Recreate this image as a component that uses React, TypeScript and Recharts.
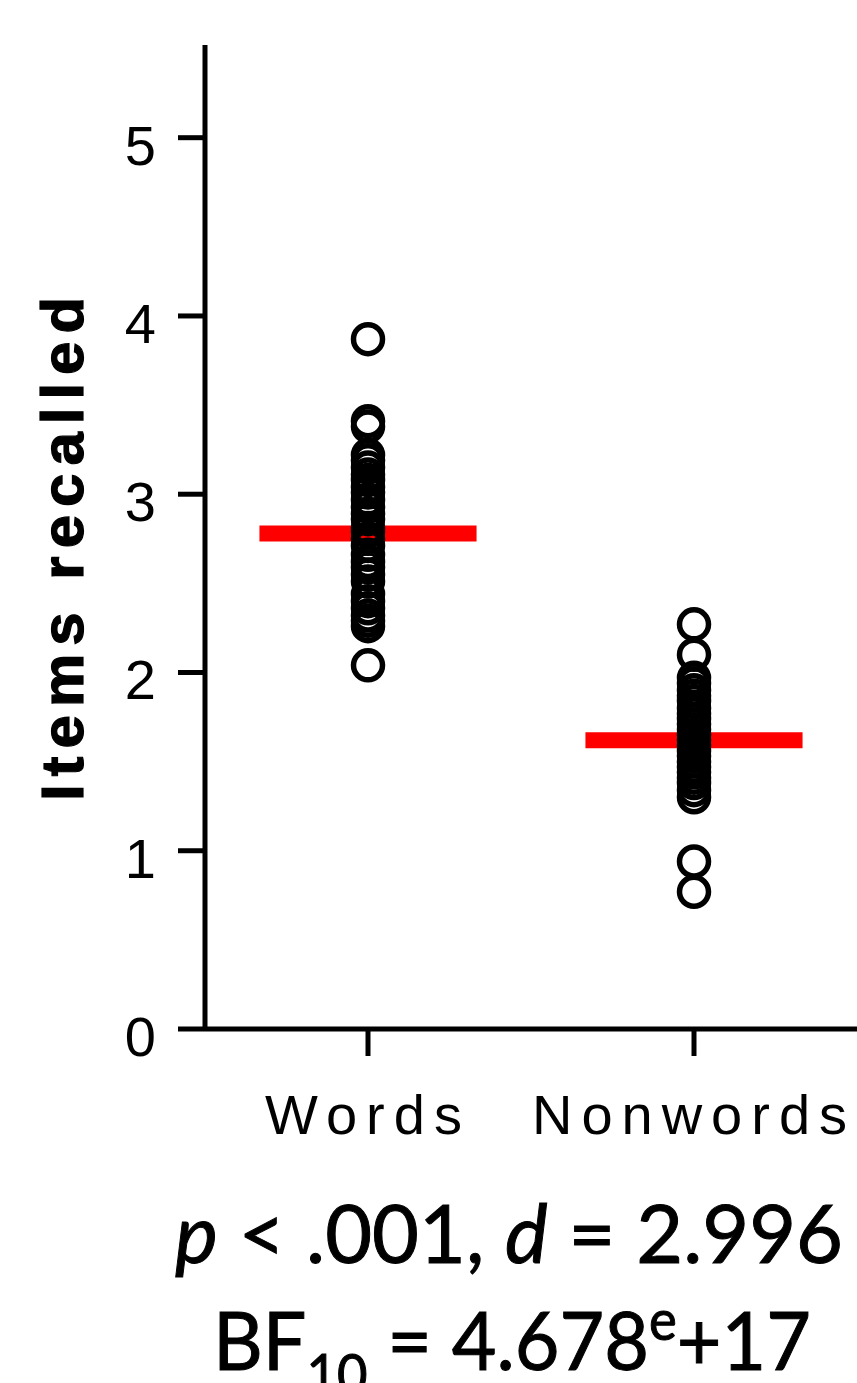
import { ComposedChart, ReferenceLine, Scatter, XAxis, YAxis } from "recharts";

const categories = ["Words", "Nonwords"];

// individual participant means
const wordsRecall = [
  3.87, 3.41, 3.38, 3.22, 3.19, 3.15, 3.11, 3.08, 3.04, 3.01, 2.97, 2.93, 2.89, 2.86, 2.81,
  2.79, 2.75, 2.71, 2.66, 2.62, 2.59, 2.55, 2.51, 2.44, 2.4, 2.36, 2.32, 2.29, 2.26, 2.04,
];
const nonwordsRecall = [
  2.27, 2.1, 1.97, 1.94, 1.9, 1.87, 1.84, 1.8, 1.77, 1.74, 1.71, 1.68, 1.65, 1.62, 1.59,
  1.56, 1.53, 1.5, 1.47, 1.44, 1.41, 1.38, 1.34, 1.3, 0.94, 0.77,
];
const groupMeans = [2.78, 1.62];
const yTicks = [0, 1, 2, 3, 4, 5];

const MEAN_HALF_WIDTH = 0.333;
const AXIS_FONT = "'Liberation Sans', Arial, sans-serif";
const NOTE_FONT = "Lato, 'Open Sans', sans-serif";
const AXIS_STROKE = 5;

const wordsData = wordsRecall.map((v) => ({ x: 1, y: v }));
const nonwordsData = nonwordsRecall.map((v) => ({ x: 2, y: v }));

function RingDot(props: any) {
  const { cx, cy } = props;
  if (cx == null || cy == null) return null;
  return <circle cx={cx} cy={cy} r={14.5} fill="none" stroke="#000" strokeWidth={5.5} />;
}

function XTick(props: any) {
  const { x, y, payload } = props;
  return (
    <text
      x={x}
      y={y}
      dy={78}
      textAnchor="middle"
      fontFamily={AXIS_FONT}
      fontSize={56}
      letterSpacing={9}
      fill="#000"
    >
      {categories[payload.value - 1]}
    </text>
  );
}

function YTick(props: any) {
  const { x, y, payload } = props;
  return (
    <text x={x} y={y} dy={27} textAnchor="end" fontFamily={AXIS_FONT} fontSize={56} fill="#000">
      {payload.value}
    </text>
  );
}

function YLabel() {
  return (
    <text
      x={83}
      y={545}
      transform="rotate(-90, 83, 545)"
      textAnchor="middle"
      fontFamily={AXIS_FONT}
      fontWeight="bold"
      fontSize={60}
      letterSpacing={8}
      stroke="#000"
      strokeWidth={1.2}
      fill="#000"
    >
      Items recalled
    </text>
  );
}

export default function App() {
  return (
    <div style={{ position: "absolute", left: 0, top: 0, width: 857, height: 1383, background: "#fff", overflow: "hidden" }}>
      <ComposedChart width={857} height={1383} margin={{ top: 45, right: 0, left: 0, bottom: 234 }}>
        <XAxis
          dataKey="x"
          type="number"
          domain={[0.5, 2.5]}
          ticks={[1, 2]}
          allowDataOverflow
          height={120}
          tickSize={27}
          tickMargin={0}
          stroke="#000"
          strokeWidth={AXIS_STROKE}
          axisLine={{ stroke: "#000", strokeWidth: AXIS_STROKE }}
          tickLine={{ stroke: "#000", strokeWidth: AXIS_STROKE }}
          tick={XTick}
        />
        <YAxis
          dataKey="y"
          type="number"
          domain={[0, 5.52]}
          ticks={yTicks}
          allowDataOverflow
          width={205}
          tickSize={27}
          tickMargin={22}
          stroke="#000"
          strokeWidth={AXIS_STROKE}
          axisLine={{ stroke: "#000", strokeWidth: AXIS_STROKE }}
          tickLine={{ stroke: "#000", strokeWidth: AXIS_STROKE }}
          tick={YTick}
          label={{ content: YLabel }}
        />
        <Scatter data={wordsData} shape={RingDot} isAnimationActive={false} />
        <Scatter data={nonwordsData} shape={RingDot} isAnimationActive={false} />
        {groupMeans.map((m, i) => (
          <ReferenceLine
            key={categories[i]}
            segment={[
              { x: i + 1 - MEAN_HALF_WIDTH, y: m },
              { x: i + 1 + MEAN_HALF_WIDTH, y: m },
            ]}
            stroke="#ff0000"
            strokeWidth={16}
          />
        ))}
      </ComposedChart>

      <svg width={857} height={1383} style={{ position: "absolute", left: 0, top: 0, pointerEvents: "none" }}>
        <text
          x={175}
          y={1263}
          fontFamily={NOTE_FONT}
          fontSize={82}
          fill="#000"
          stroke="#000"
          strokeWidth={1}
          textLength={668}
          lengthAdjust="spacingAndGlyphs"
        >
          <tspan fontStyle="italic">p</tspan> &lt; .001, <tspan fontStyle="italic">d</tspan> = 2.996
        </text>
        <text
          x={213}
          y={1370}
          fontFamily={NOTE_FONT}
          fontSize={82}
          fill="#000"
          stroke="#000"
          strokeWidth={1}
          textLength={598}
          lengthAdjust="spacingAndGlyphs"
        >
          BF
          <tspan fontSize={56} dy={24}>10</tspan>
          <tspan dy={-24}> = 4.678</tspan>
          <tspan fontSize={56} dy={-30}>e</tspan>
          <tspan dy={30}>+17</tspan>
        </text>
      </svg>
    </div>
  );
}
